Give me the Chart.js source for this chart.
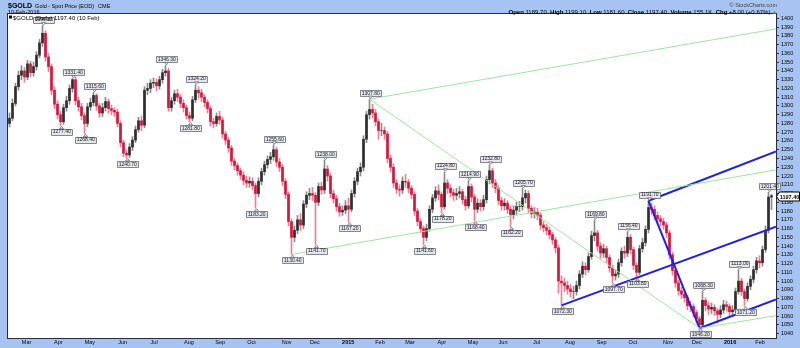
<!DOCTYPE html>
<html><head><meta charset="utf-8">
<script src="https://cdn.jsdelivr.net/npm/chart.js@4.4.0/dist/chart.umd.min.js"></script>
<style>html,body{margin:0;padding:0;background:#a7c3f2;}canvas{display:block;}</style>
</head><body>
<canvas id="c" width="800" height="348"></canvas>
<script>
// ---- data (2-trading-day candles) ----
const firstOpen = 1280;
const closes = [
1286,1303,1322,1335,1340,1333,1348,1338,1345,1358,
1372,1383,1356,1345,1318,1302,1290,1282,1298,1306,
1320,1330,1306,1299,1289,1280,1299,1304,1312,1300,
1292,1298,1305,1297,1295,1293,1280,1258,1246,1244,
1253,1261,1273,1283,1278,1318,1320,1326,1327,1323,
1330,1338,1340,1298,1306,1314,1310,1303,1298,1289,
1286,1307,1318,1315,1310,1304,1297,1282,1280,1288,
1284,1268,1261,1252,1237,1232,1226,1221,1215,1212,
1214,1209,1200,1214,1225,1233,1239,1242,1250,1236,
1230,1214,1199,1168,1150,1158,1170,1164,1188,1198,
1200,1198,1190,1208,1204,1228,1220,1200,1194,1185,
1179,1181,1186,1182,1200,1214,1225,1230,1262,1290,
1296,1292,1282,1272,1272,1268,1240,1230,1212,1205,
1204,1214,1213,1206,1199,1180,1168,1160,1150,1160,
1182,1195,1203,1199,1185,1212,1206,1201,1198,1200,
1202,1193,1186,1208,1196,1182,1189,1185,1193,1216,
1226,1212,1206,1192,1186,1189,1182,1176,1181,1185,
1185,1195,1200,1183,1177,1179,1175,1164,1161,1158,
1153,1147,1138,1100,1098,1095,1091,1088,1088,1095,
1108,1117,1113,1128,1152,1155,1140,1132,1137,1127,
1115,1106,1108,1121,1134,1132,1150,1136,1118,1110,
1137,1144,1159,1184,1182,1175,1171,1168,1164,1155,
1130,1112,1098,1089,1085,1081,1072,1071,1064,1057,
1050,1078,1072,1068,1070,1066,1062,1067,1073,1071,
1065,1067,1088,1100,1088,1080,1094,1102,1113,1123,
1121,1136,1158,1196,1197.4];
const highs = [
1292,1308,1326,1340,1346,1344,1352,1351,1350,1362,
1376,1391.8,1386,1360,1348,1322,1306,1294,1302,1311,
1324,1331.4,1333,1310,1303,1292,1303,1309,1315.6,1314,
1303,1303,1310,1308,1301,1298,1296,1283,1261,1250,
1257,1265,1277,1287,1288,1322,1326,1330,1332,1331,
1334,1342,1346.3,1343,1310,1318,1319,1313,1307,1301,
1293,1311,1324.2,1322,1319,1313,1307,1300,1286,1292,
1294,1287,1271,1264,1255,1240,1235,1229,1225,1220,
1219,1218,1212,1218,1229,1237,1243,1247,1255.6,1253,
1240,1233,1217,1202,1171,1163,1175,1177,1192,1202,
1206,1207,1201,1212,1213,1238,1232,1223,1204,1198,
1189,1186,1192,1195,1204,1218,1229,1235,1266,1294,
1307.8,1302,1296,1285,1280,1276,1271,1244,1234,1216,
1210,1219,1222,1216,1209,1202,1183,1171,1163,1165,
1186,1199,1208,1210,1202,1224.8,1216,1210,1205,1206,
1208,1205,1197,1214.9,1211,1199,1194,1193,1198,1220,
1232.8,1229,1216,1209,1196,1194,1192,1186,1186,1190,
1191,1205.7,1204,1203,1186,1184,1183,1178,1168,1165,
1162,1156,1150,1141,1106,1103,1100,1096,1094,1100,
1112,1122,1121,1132,1157,1169.8,1158,1144,1142,1140,
1130,1118,1113,1125,1138,1140,1156.4,1153,1139,1121,
1141,1149,1163,1191.7,1189,1186,1179,1175,1172,1167,
1158,1133,1115,1101,1093,1089,1084,1077,1074,1067,
1060,1088.3,1081,1076,1075,1073,1069,1072,1078,1077,
1074,1072,1092,1113,1103,1091,1098,1106,1117,1127,
1129,1140,1163,1201.4,1199.1];
const lows = [
1276,1283,1300,1318,1330,1327,1330,1333,1334,1341,
1355,1368,1351,1339,1313,1297,1285,1277.4,1279,1294,
1302,1316,1301,1294,1284,1268.4,1276,1295,1300,1295,
1287,1288,1294,1292,1290,1288,1276,1253,1242,1240.7,
1241,1249,1258,1270,1272,1275,1313,1315,1321,1317,
1319,1326,1334,1294,1294,1302,1305,1298,1293,1285,
1281.8,1283,1304,1309,1305,1299,1292,1277,1275,1277,
1279,1263,1256,1247,1232,1227,1221,1216,1210,1207,
1207,1204,1183.2,1196,1210,1221,1229,1234,1238,1231,
1225,1209,1194,1163,1130.4,1145,1154,1158,1160,1184,
1193,1192,1141.7,1186,1199,1200,1214,1195,1189,1180,
1174,1175,1177,1167.2,1179,1196,1210,1220,1226,1258,
1285,1286,1277,1262,1266,1262,1235,1225,1207,1200,
1197,1200,1207,1201,1194,1175,1163,1155,1141.6,1146,
1157,1178,1191,1193,1178.2,1182,1200,1196,1192,1193,
1195,1188,1181,1183,1190,1168.4,1178,1180,1181,1189,
1211,1207,1201,1187,1181,1181,1177,1162.2,1171,1176,
1179,1181,1189,1178,1172,1172,1170,1159,1156,1153,
1148,1142,1132,1086,1072.3,1088,1085,1082,1080,1084,
1091,1104,1107,1110,1125,1146,1134,1126,1127,1121,
1110,1097.7,1101,1104,1117,1126,1128,1131,1113,1103.8,
1107,1133,1140,1155,1176,1170,1166,1163,1159,1150,
1125,1107,1093,1084,1080,1076,1067,1065,1059,1052,
1046.2,1047,1066,1062,1063,1061,1052,1058,1063,1066,
1059,1060,1064,1085,1083,1071.2,1077,1090,1098,1109,
1115,1117,1133,1155,1181.6];

const monthLabels = ["Mar","Apr","May","Jun","Jul","Aug","Sep","Oct","Nov","Dec","2015","Feb",
                     "Mar","Apr","May","Jun","Jul","Aug","Sep","Oct","Nov","Dec","2016","Feb"];
const monthIdx = [5.7,16.3,26.8,37.7,48.2,59.8,70.2,80.7,92.4,101.8,112.9,123.5,
                  133.5,144.1,154.5,164.5,175.7,186.8,197.4,207.8,219.5,229.1,240.2,250.2];
const yTicks = [1040,1050,1060,1070,1080,1090,1100,1110,1120,1130,1140,1150,1160,1170,1180,1190,1200,
                1210,1220,1230,1240,1250,1260,1270,1280,1290,1300,1310,1320,1330,1340,1350,1360,1370,1380,1390,1400];

// [candle index, price, label, above/below]
const notes = [
 [11,1391.8,'1391.80','a'],[17,1277.4,'1277.40','b'],[21,1331.4,'1331.40','a'],[25,1268.4,'1268.40','b'],
 [28,1315.6,'1315.60','a'],[39,1240.7,'1240.70','b'],[52,1346.3,'1346.30','a'],[60,1281.8,'1281.80','b'],
 [62,1324.2,'1324.20','a'],[82,1183.2,'1183.20','b'],[88,1255.6,'1255.60','a'],[94,1130.4,'1130.40','b'],
 [102,1141.7,'1141.70','b'],[105,1238.0,'1238.00','a'],[113,1167.2,'1167.20','b'],[120,1307.8,'1307.80','a'],
 [138,1141.6,'1141.60','b'],[144,1178.2,'1178.20','b'],[145,1224.8,'1224.80','a'],[153,1214.9,'1214.90','a'],
 [155,1168.4,'1168.40','b'],[160,1232.8,'1232.80','a'],[167,1162.2,'1162.20','b'],[171,1205.7,'1205.70','a'],
 [184,1072.3,'1072.30','b'],[195,1169.8,'1169.80','a'],[201,1097.7,'1097.70','b'],[206,1156.4,'1156.40','a'],
 [209,1103.8,'1103.80','b'],[213,1191.7,'1191.70','a'],[230,1046.2,'1046.20','b'],[231,1088.3,'1088.30','a'],
 [243,1113.0,'1113.00','a'],[245,1071.2,'1071.20','b'],[253,1201.4,'1201.40','a']
];
const greenLines = [
 [[120,1307.8],[255.5,1388]],
 [[120,1307.8],[230,1046.2]],
 [[94,1130.4],[255.5,1227]],
 [[230,1046.2],[255.5,1060.5]]
];
const blueLines = [
 [[213,1191.7],[230,1046.2]],
 [[213,1191.7],[255.5,1248]],
 [[184,1072.3],[255.5,1162]],
 [[230,1046.2],[255.5,1079]]
];
const lastPrice = closes[closes.length-1];

// ---- build datasets ----
const FONT = '"Liberation Sans", Arial, sans-serif';
const opens = closes.map((c,i)=> i===0 ? firstOpen : closes[i-1]);
const up = closes.map((c,i)=> c >= opens[i]);
const wickData = closes.map((c,i)=>({x:i, y:[lows[i], highs[i]]}));
const bodyData = closes.map((c,i)=>({x:i, y:[opens[i], c]}));

const datasets = [];
greenLines.forEach(l=>datasets.push({type:'line', data:l.map(p=>({x:p[0],y:p[1]})), borderColor:'#9be89b', borderWidth:1, pointRadius:0, order:0}));
blueLines.forEach(l=>datasets.push({type:'line', data:l.map(p=>({x:p[0],y:p[1]})), borderColor:'#1f1fe6', borderWidth:2, pointRadius:0, order:0}));
datasets.push({type:'bar', data:bodyData, backgroundColor: up.map(u=>u?'#2e2e2e':'#dc143c'), barThickness:2, grouped:false, borderWidth:0, order:1});
datasets.push({type:'bar', data:wickData, backgroundColor: up.map(u=>u?'#8c8c8c':'#ee7f98'), barThickness:1, grouped:false, borderWidth:0, order:2});

const bgPlugin = {
  id:'bg',
  beforeDraw(chart){
    const {ctx, chartArea:a} = chart;
    ctx.save();
    ctx.fillStyle = '#a7c3f2'; ctx.fillRect(0,0,chart.width,chart.height);
    ctx.fillStyle = '#ffffff'; ctx.fillRect(a.left,a.top,a.right-a.left,a.bottom-a.top);
    ctx.restore();
  },
  afterDatasetsDraw(chart){
    const {ctx, scales:{x,y}} = chart;
    ctx.save();
    ctx.font = '5px ' + FONT;
    ctx.textAlign = 'center'; ctx.textBaseline = 'middle';
    notes.forEach(n=>{
      const px = Math.round(x.getPixelForValue(n[0])) + 0.5;
      const py = y.getPixelForValue(n[1]);
      const dir = n[3]==='a' ? -1 : 1;
      const w = ctx.measureText(n[2]).width + 3, h = 6;
      const tipY = py + dir*0.5, baseY = py + dir*3;
      const cy = baseY + dir*h/2;
      ctx.fillStyle = '#e4e6ee'; ctx.strokeStyle = '#6a6a78'; ctx.lineWidth = 0.8;
      ctx.beginPath(); ctx.rect(Math.round(px - w/2)+0.5, Math.round(cy - h/2)+0.5, Math.round(w), h); ctx.fill(); ctx.stroke();
      ctx.beginPath(); ctx.moveTo(px, tipY); ctx.lineTo(px-2, baseY); ctx.lineTo(px+2, baseY); ctx.closePath();
      ctx.fillStyle = '#ffffff'; ctx.fill(); ctx.stroke();
      ctx.fillStyle = '#222'; ctx.fillText(n[2], px+0.3, cy+0.3);
    });
    ctx.restore();
  },
  afterDraw(chart){
    const {ctx, chartArea:a, scales:{y}} = chart;
    ctx.save();
    // frame
    ctx.strokeStyle = '#2a2a40'; ctx.lineWidth = 1;
    ctx.strokeRect(a.left-0.5, a.top-0.5, a.right-a.left+1, a.bottom-a.top+1);
    // header left
    ctx.fillStyle = '#000'; ctx.textBaseline = 'alphabetic'; ctx.textAlign = 'left';
    ctx.font = 'bold 7px ' + FONT; ctx.fillText('$GOLD', 8, 7.5);
    const gw = ctx.measureText('$GOLD').width;
    ctx.font = '5.5px ' + FONT; ctx.fillText('Gold - Spot Price (EOD)', 8 + gw + 3, 7.5);
    const sw = ctx.measureText('Gold - Spot Price (EOD)').width;
    ctx.fillText('CME', 8 + gw + 3 + sw + 4, 7.5);
    ctx.fillText('10-Feb-2016', 8, 13.5);
    // header right
    ctx.fillStyle = '#444'; ctx.textAlign = 'right'; ctx.font = '5.5px ' + FONT;
    ctx.fillText('\u00A9 StockCharts.com', 777, 7);
    const segs = [['Open',1],[' 1189.70  ',0],['High',1],[' 1199.10  ',0],['Low',1],[' 1181.60  ',0],['Close',1],[' 1197.40  ',0],['Volume',1],[' 155.1K  ',0],['Chg',1],[' +8.00 (+0.67%) ',0]];
    let tw = 0;
    segs.forEach(s=>{ ctx.font = (s[1]?'bold ':'') + '6px ' + FONT; tw += ctx.measureText(s[0]).width; });
    ctx.font = '5px ' + FONT; const triW = ctx.measureText('\u25B2').width;
    let xx = 777 - tw - triW; ctx.textAlign = 'left'; ctx.fillStyle = '#000';
    segs.forEach(s=>{ ctx.font = (s[1]?'bold ':'') + '6px ' + FONT; ctx.fillText(s[0], xx, 13.5); xx += ctx.measureText(s[0]).width; });
    ctx.fillStyle = '#1a9a1a'; ctx.font = '5px ' + FONT; ctx.fillText('\u25B2', xx, 13.5);
    // legend in plot
    ctx.fillStyle = '#000'; ctx.fillRect(9, 15.5, 3, 3);
    ctx.font = '6px ' + FONT; ctx.fillText('$GOLD (Daily) 1197.40 (10 Feb)', 13, 19.5);
    // last price box on the axis
    const yv = Math.round(y.getPixelForValue(lastPrice)) + 0.5;
    ctx.beginPath(); ctx.moveTo(776.5, yv); ctx.lineTo(779.5, yv-4.5); ctx.lineTo(799.5, yv-4.5); ctx.lineTo(799.5, yv+4.5); ctx.lineTo(779.5, yv+4.5); ctx.closePath();
    ctx.fillStyle = '#fff'; ctx.fill(); ctx.strokeStyle = '#000'; ctx.lineWidth = 1; ctx.stroke();
    ctx.fillStyle = '#000'; ctx.font = 'bold 5.5px ' + FONT; ctx.textBaseline = 'middle'; ctx.textAlign = 'center';
    ctx.fillText(lastPrice.toFixed(2), 789.5, yv+0.5);
    ctx.restore();
  }
};

new Chart(document.getElementById('c'), {
  type: 'bar',
  data: { datasets },
  options: {
    responsive:false, animation:false, devicePixelRatio:1, events:[],
    layout:{ padding:{left:8, top:14, right:0, bottom:0} },
    plugins:{ legend:{display:false}, tooltip:{enabled:false} },
    scales:{
      x:{ type:'linear', min:-0.5, max:255.5, offset:false, bounds:'data',
          afterBuildTicks: s=>{ s.ticks = monthIdx.map(v=>({value:v})); },
          afterFit: s=>{ s.height = 10; },
          ticks:{ autoSkip:false, maxRotation:0, minRotation:0, padding:0, color:'#000',
                  font: ctx=>({family:FONT, size:5.5, weight: (monthLabels[ctx.index]||'').length===4 ? 'bold':'normal'}),
                  callback:(v,i)=>monthLabels[i] },
          grid:{ drawOnChartArea:false, offset:false, tickLength:1, color:'#333' },
          border:{ display:false } },
      y:{ type:'linear', position:'right', min:1035, max:1405, bounds:'data', beginAtZero:false,
          afterBuildTicks: s=>{ s.ticks = yTicks.map(v=>({value:v})); },
          afterFit: s=>{ s.width = 24; },
          ticks:{ autoSkip:false, padding:2, color:'#000', font:{family:FONT, size:5.5}, callback:v=>String(v) },
          grid:{ drawOnChartArea:false, tickLength:3, color:'#333' },
          border:{ display:false } }
    }
  },
  plugins:[bgPlugin]
});
</script>
</body></html>
